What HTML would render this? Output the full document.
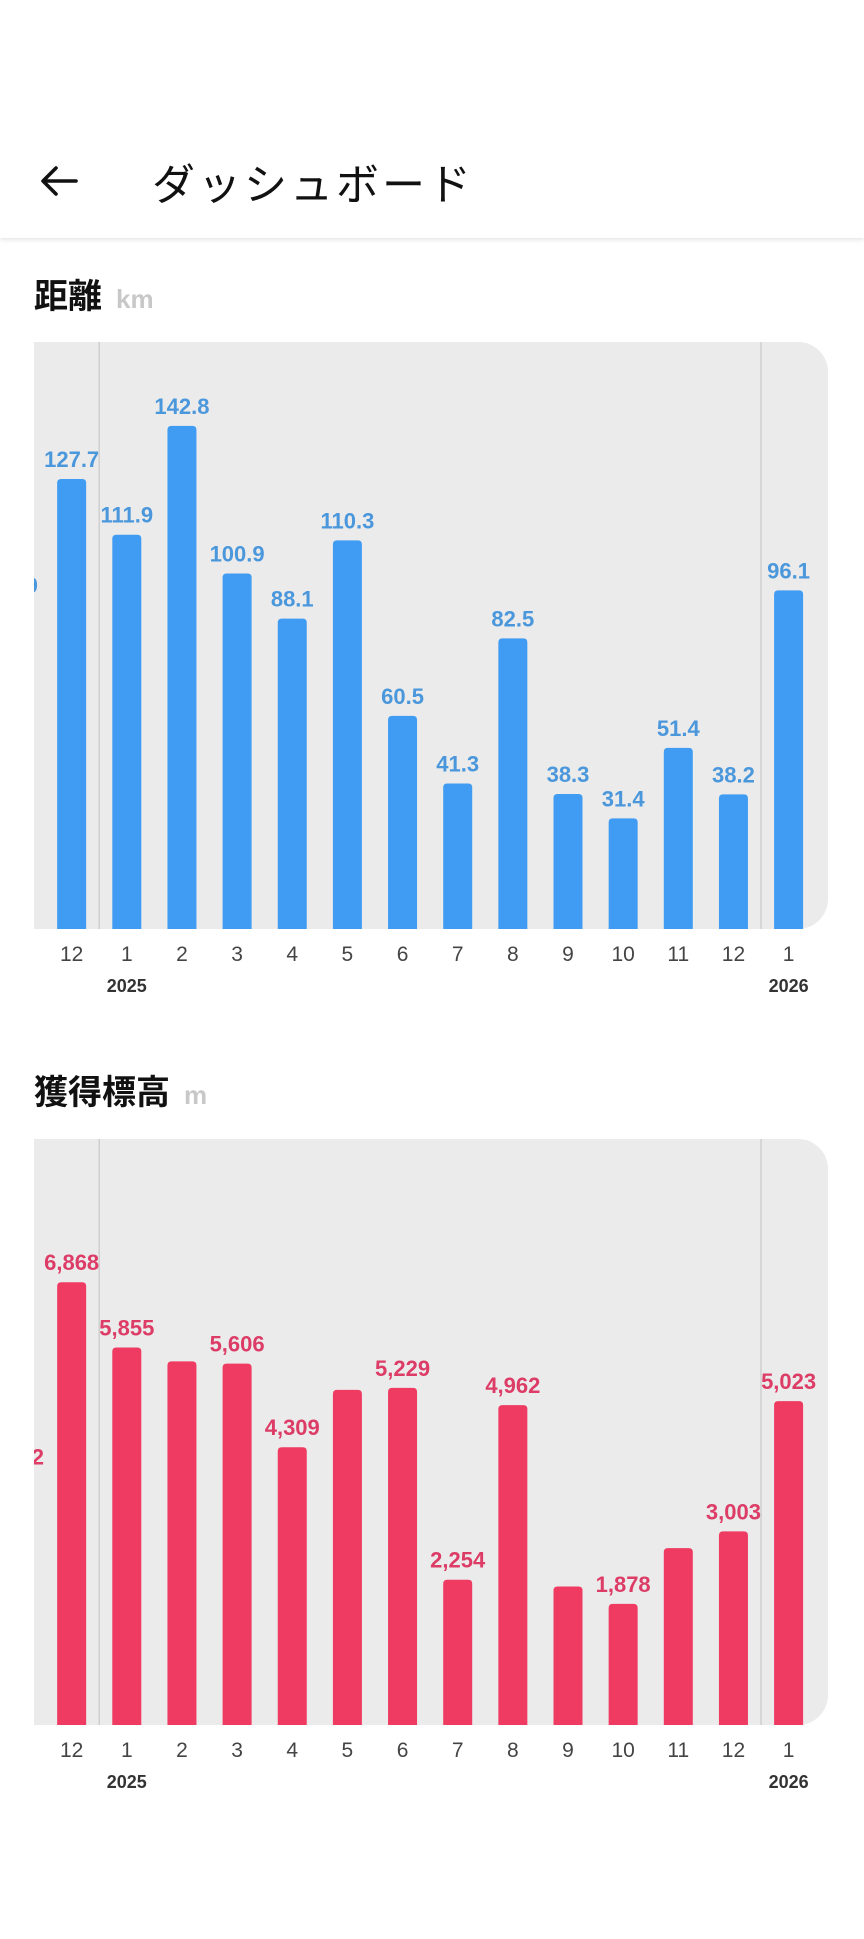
<!DOCTYPE html>
<html><head><meta charset="utf-8">
<style>
html,body{margin:0;padding:0;background:#fff;width:864px;height:1939px;overflow:hidden;font-family:"Liberation Sans","Noto Sans CJK JP",sans-serif;}
.header{position:absolute;left:0;top:0;width:864px;height:238px;background:#fff;box-shadow:0 2px 4px rgba(0,0,0,0.10);}
.title{position:absolute;left:152px;top:154px;font-size:43px;letter-spacing:3px;color:#111;font-family:"Noto Sans CJK JP",sans-serif;line-height:56px;}
.back{position:absolute;left:38px;top:163px;}
.sec{position:absolute;left:34px;font-family:"Noto Sans CJK JP",sans-serif;font-weight:bold;font-size:34px;color:#111;line-height:40px;}
.unit{font-family:"Liberation Sans",sans-serif;font-weight:bold;font-size:26px;color:#c8c8c8;margin-left:14px;}
svg.chart{position:absolute;left:0;top:0;}
</style></head>
<body>
<div class="header">
  <svg class="back" width="42" height="36" viewBox="0 0 42 36"><path d="M38 18H6M18 5L5 18l13 13" fill="none" stroke="#111" stroke-width="3.6" stroke-linecap="round" stroke-linejoin="round"/></svg>
  <div class="title">ダッシュボード</div>
</div>
<div class="sec" style="top:274px">距離<span class="unit">km</span></div>
<svg id="c1" class="chart" width="864" height="1000"></svg>
<div class="sec" style="top:1070px">獲得標高<span class="unit">m</span></div>
<svg id="c2" class="chart" width="864" height="1939"></svg>
<script>
const months = ["11","12","1","2","3","4","5","6","7","8","9","10","11","12","1"];
const years = ["","","2025","","","","","","","","","","","","2026"];
const distanceValues = [91.9,127.7,111.9,142.8,100.9,88.1,110.3,60.5,41.3,82.5,38.3,31.4,51.4,38.2,96.1];
const distanceLabels = ["91.9","127.7","111.9","142.8","100.9","88.1","110.3","60.5","41.3","82.5","38.3","31.4","51.4","38.2","96.1"];
const elevationValues = [3852,6868,5855,5640,5606,4309,5199,5229,2254,4962,2148,1878,2743,3003,5023];
const elevationLabels = ["3,852","6,868","5,855","","5,606","4,309","","5,229","2,254","4,962","","1,878","","3,003","5,023"];
const distanceMax = 166.6;
const elevationMax = 9090;

const NS="http://www.w3.org/2000/svg";
function mk(tag,attrs,parent){const e=document.createElementNS(NS,tag);for(const k in attrs)e.setAttribute(k,attrs[k]);parent.appendChild(e);return e;}
function draw(svg,id,top,bottom,values,labels,ymax,barColor,labelColor,prefix){
  const left=34,right=828,r=30;
  const defs=mk('defs',{},svg);
  const cp=mk('clipPath',{id:id},defs);
  mk('rect',{x:left,y:top-60,width:right-left,height:bottom-top+60},cp);
  const bg=mk('path',{d:`M${left} ${top}H${right-r}A${r} ${r} 0 0 1 ${right} ${top+r}V${bottom-r}A${r} ${r} 0 0 1 ${right-r} ${bottom}H${left}Z`,fill:'#ebebeb'},svg);
  
  
  const x=i=>16.5+i*55.15;
  const y=v=>bottom-(v/ymax)*(bottom-top);
  [2,14].forEach(i=>{
    const l=mk('line',{x1:x(i)-27.6,x2:x(i)-27.6,y1:top,y2:bottom,stroke:'#cfcfcf','stroke-width':1.5},svg);
    
    
  });
  const g=mk('g',{'clip-path':`url(#${id})`},svg);
  values.forEach((v,i)=>{
    const yt=y(v);
    const b=mk('path',{d:`M${x(i)-14.5} ${bottom}V${yt+4}Q${x(i)-14.5} ${yt} ${x(i)-10.5} ${yt}H${x(i)+10.5}Q${x(i)+14.5} ${yt} ${x(i)+14.5} ${yt+4}V${bottom}Z`,fill:barColor},g);
    
    
    if(labels[i]){
      const t=mk('text',{x:x(i),y:yt-12,'text-anchor':'middle','font-size':22,'font-weight':'bold',fill:labelColor,'font-family':'Liberation Sans, sans-serif'},g);
      t.textContent=labels[i];
      
      
    }
    if(i>0){
      const m=mk('text',{x:x(i),y:bottom+32,'text-anchor':'middle','font-size':21,fill:'#444','font-family':'Liberation Sans, sans-serif'},svg);
      m.textContent=months[i];
      
      
    }
    if(years[i]){
      const yl=mk('text',{x:x(i),y:bottom+63,'text-anchor':'middle','font-size':18,'font-weight':'bold',fill:'#333','font-family':'Liberation Sans, sans-serif'},svg);
      yl.textContent=years[i];
      
      
    }
  });
}
draw(document.getElementById('c1'),'clip1',342,929,distanceValues,distanceLabels,distanceMax,'#409cf2','#4a97dc','distance');
draw(document.getElementById('c2'),'clip2',1139,1725,elevationValues,elevationLabels,elevationMax,'#ef3b62','#dc3c66','elevation');
</script>
</body></html>
